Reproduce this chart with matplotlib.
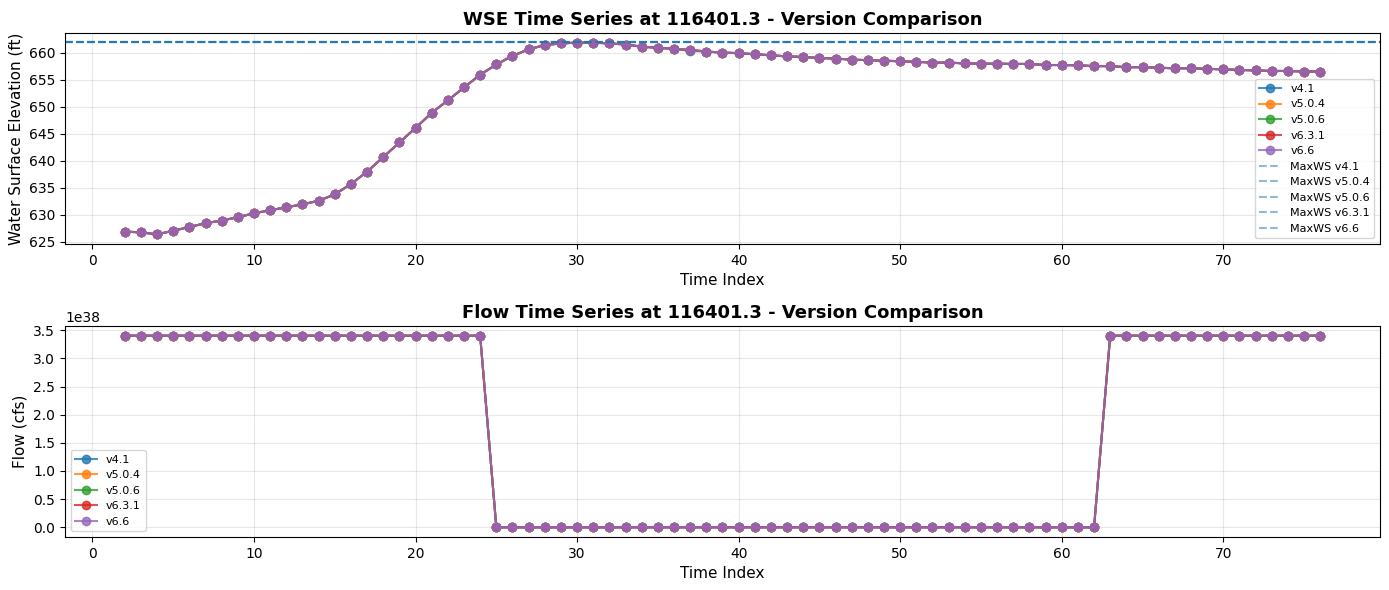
import numpy as np
import matplotlib.pyplot as plt
from matplotlib.ticker import MultipleLocator

versions = ['v4.1', 'v5.0.4', 'v5.0.6', 'v6.3.1', 'v6.6']
time_index = list(range(2, 77))

wse = [626.85, 626.7, 626.35, 627.0, 627.7, 628.4, 628.9, 629.5, 630.25, 630.8,
       631.35, 631.9, 632.55, 633.75, 635.65, 637.95, 640.65, 643.35, 646.05, 648.85,
       651.15, 653.55, 655.9, 657.8, 659.4, 660.6, 661.4, 661.7, 661.85, 661.85,
       661.7, 661.5, 661.1, 660.9, 660.7, 660.5, 660.2, 660.0, 659.9, 659.7,
       659.5, 659.3, 659.2, 659.0, 658.9, 658.7, 658.6, 658.5, 658.4, 658.3,
       658.15, 658.15, 658.0, 657.95, 657.95, 657.9, 657.9, 657.7, 657.7, 657.65,
       657.5, 657.5, 657.3, 657.3, 657.2, 657.1, 657.1, 657.0, 656.9, 656.8,
       656.7, 656.6, 656.6, 656.5, 656.5]
wse_v41 = list(wse)
wse_v41[37 - 2] = 660.3

max_ws = [662.0, 662.0, 662.0, 662.0, 662.0]

big = 3.4028235e38
flow = [big] * 23 + [0.0] * 38 + [big] * 14

fig, (ax1, ax2) = plt.subplots(2, 1, figsize=(13.89, 5.9), dpi=100)

for v in versions:
    y = wse_v41 if v == 'v4.1' else wse
    ax1.plot(time_index, y, marker='o', alpha=0.8, label=v)
for v, m in zip(versions, max_ws):
    ax1.axhline(m, color='tab:blue', linestyle='--', alpha=0.5, label='MaxWS ' + v)
ax1.set_title('WSE Time Series at 116401.3 - Version Comparison', fontsize=13, fontweight='bold')
ax1.set_xlabel('Time Index', fontsize=11)
ax1.set_ylabel('Water Surface Elevation (ft)', fontsize=11)
ax1.yaxis.set_major_locator(MultipleLocator(5))
ax1.grid(True, alpha=0.3)
ax1.legend(fontsize=8, loc='lower right')

for v in versions:
    ax2.plot(time_index, flow, marker='o', alpha=0.8, label=v)
ax2.set_title('Flow Time Series at 116401.3 - Version Comparison', fontsize=13, fontweight='bold')
ax2.set_xlabel('Time Index', fontsize=11)
ax2.set_ylabel('Flow (cfs)', fontsize=11)
ax2.yaxis.set_major_locator(MultipleLocator(0.5e38))
ax2.grid(True, alpha=0.3)
ax2.legend(fontsize=8, loc='lower left')

plt.subplots_adjust(left=0.0468, right=0.9935, top=0.944, bottom=0.09, hspace=0.39)
plt.savefig('out.png')
